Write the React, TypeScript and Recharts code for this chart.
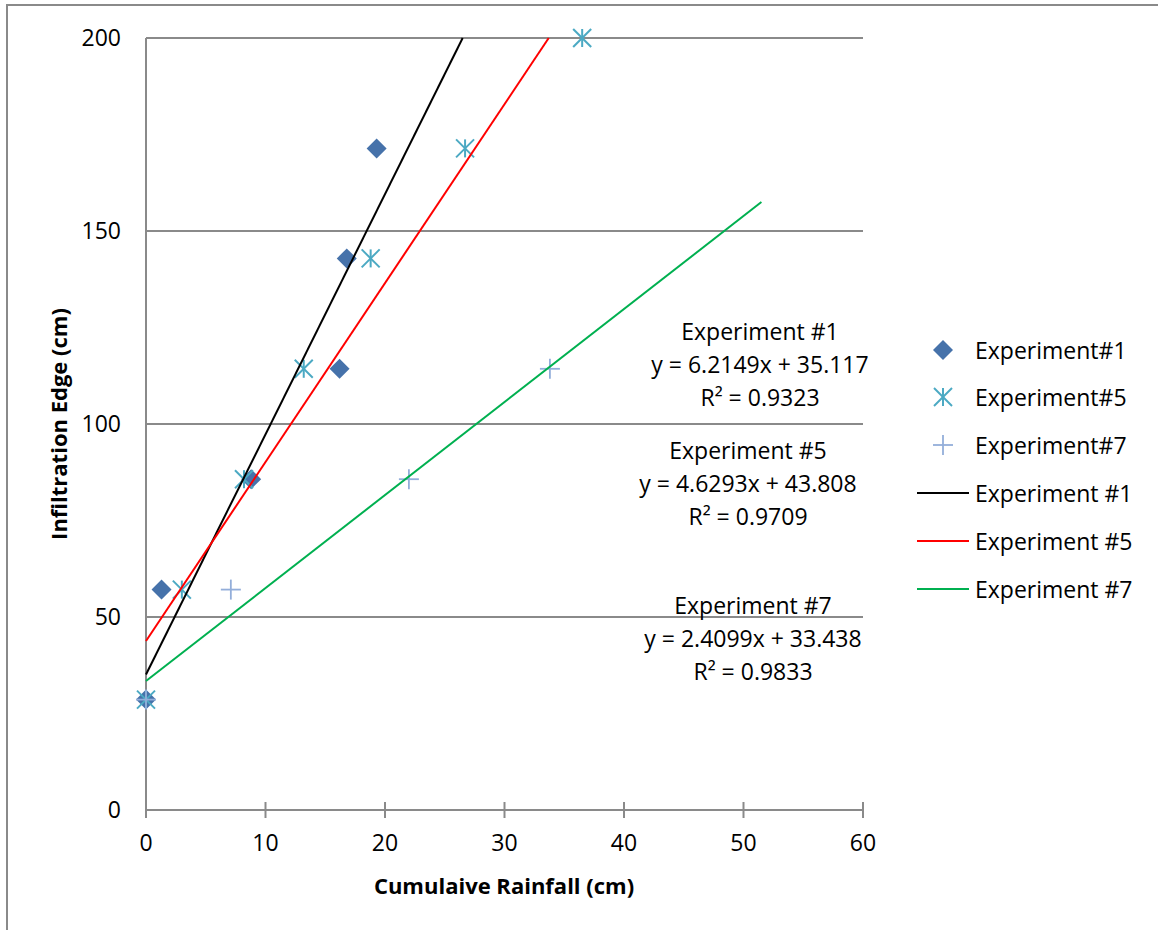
import { CartesianGrid, Scatter, ScatterChart, XAxis, YAxis } from "recharts";

const exp1X = [0, 1.3, 8.8, 16.2, 16.8, 19.3];
const exp1Y = [28.6, 57.1, 85.7, 114.3, 142.9, 171.4];
const exp5X = [0, 3.0, 8.2, 13.2, 18.8, 26.7, 36.5];
const exp5Y = [28.6, 57.1, 85.7, 114.3, 142.9, 171.4, 200];
const exp7X = [0, 7.1, 22.0, 33.8];
const exp7Y = [28.6, 57.1, 85.7, 114.3];

// trendline end points as drawn
const trend1X = [0, 26.5];
const trend1Y = [35.1, 200];
const trend5X = [0, 33.7];
const trend5Y = [43.8, 200];
const trend7X = [0, 51.5];
const trend7Y = [33.4, 157.5];

const xTicks = [0, 10, 20, 30, 40, 50, 60];
const yTicks = [0, 50, 100, 150, 200];

const equations = [
  { title: "Experiment #1", eq: "y = 6.2149x + 35.117", r2: "R² = 0.9323" },
  { title: "Experiment #5", eq: "y = 4.6293x + 43.808", r2: "R² = 0.9709" },
  { title: "Experiment #7", eq: "y = 2.4099x + 33.438", r2: "R² = 0.9833" },
];

const legendNames = ["Experiment#1", "Experiment#5", "Experiment#7", "Experiment #1", "Experiment #5", "Experiment #7"];

const FONT = "'Open Sans', sans-serif";
const AXIS = "#8A8A8A";
const C1 = "#4672AA";
const C5 = "#4BA9C3";
const C7 = "#93AEDA";
const LINE_COLORS = ["#000000", "#FF0000", "#00B050"];

const zip = (xs: number[], ys: number[]) => xs.map((x, i) => ({ x, y: ys[i] }));

const Diamond = ({ cx, cy }: any) => (
  <polygon points={`${cx},${cy - 10} ${cx + 10},${cy} ${cx},${cy + 10} ${cx - 10},${cy}`} fill={C1} />
);

const Star = ({ cx, cy }: any) => (
  <g stroke={C5} strokeWidth={2}>
    <line x1={cx - 9} y1={cy - 9} x2={cx + 9} y2={cy + 9} />
    <line x1={cx - 9} y1={cy + 9} x2={cx + 9} y2={cy - 9} />
    <line x1={cx} y1={cy - 9} x2={cx} y2={cy + 9} />
  </g>
);

const Plus = ({ cx, cy }: any) => (
  <g stroke={C7} strokeWidth={1.8}>
    <line x1={cx - 10} y1={cy} x2={cx + 10} y2={cy} />
    <line x1={cx} y1={cy - 10} x2={cx} y2={cy + 10} />
  </g>
);

const NoDot = () => <g />;

const XTick = ({ x, y, payload }: any) => (
  <g>
    <line x1={x} x2={x} y1={y - 33} y2={y - 17} stroke={AXIS} strokeWidth={2} />
    <text x={x} y={y} dy="0.71em" textAnchor="middle" fill="#000" fontSize={23} fontFamily={FONT}>
      {payload.value}
    </text>
  </g>
);

const eqPos = [
  { cx: 760, top: 315 },
  { cx: 748, top: 434 },
  { cx: 753, top: 589 },
];

const legendY = [350, 397, 445, 493, 541, 589];

export default function App() {
  return (
    <div style={{ position: "absolute", left: 0, top: 0, width: 1158, height: 930, overflow: "hidden", background: "#fff", fontFamily: FONT }}>
      <div style={{ position: "absolute", left: 6, top: 4, width: 1200, height: 1000, borderLeft: `2px solid ${AXIS}`, borderTop: `2px solid ${AXIS}` }} />
      <ScatterChart width={1158} height={930} margin={{ top: 38, right: 295, bottom: 60, left: 10 }}>
        <CartesianGrid vertical={false} stroke={AXIS} strokeWidth={2} />
        <XAxis
          type="number"
          dataKey="x"
          domain={[0, 60]}
          ticks={xTicks}
          height={60}
          tickLine={false}
          tickSize={0}
          tickMargin={25}
          axisLine={{ stroke: AXIS, strokeWidth: 2 }}
          tick={<XTick />}
        />
        <YAxis
          type="number"
          dataKey="y"
          domain={[0, 200]}
          ticks={yTicks}
          width={136}
          tickLine={false}
          tickSize={0}
          tickMargin={25}
          axisLine={{ stroke: AXIS, strokeWidth: 2 }}
          tick={{ fill: "#000", fontSize: 23, fontFamily: FONT }}
        />
        <Scatter data={zip(exp1X, exp1Y)} shape={<Diamond />} isAnimationActive={false} />
        <Scatter data={zip(exp5X, exp5Y)} shape={<Star />} isAnimationActive={false} />
        <Scatter data={zip(exp7X, exp7Y)} shape={<Plus />} isAnimationActive={false} />
        <Scatter data={zip(trend1X, trend1Y)} shape={<NoDot />} line={{ stroke: LINE_COLORS[0], strokeWidth: 2 }} isAnimationActive={false} />
        <Scatter data={zip(trend5X, trend5Y)} shape={<NoDot />} line={{ stroke: LINE_COLORS[1], strokeWidth: 2 }} isAnimationActive={false} />
        <Scatter data={zip(trend7X, trend7Y)} shape={<NoDot />} line={{ stroke: LINE_COLORS[2], strokeWidth: 2 }} isAnimationActive={false} />
      </ScatterChart>

      {equations.map((e, i) => (
        <div
          key={e.title}
          style={{ position: "absolute", left: eqPos[i].cx - 150, top: eqPos[i].top, width: 300, textAlign: "center", fontSize: 23, lineHeight: "33px", color: "#000" }}
        >
          <div>{e.title}</div>
          <div>{e.eq}</div>
          <div>{e.r2}</div>
        </div>
      ))}

      {legendNames.map((name, i) => (
        <div key={name + i} style={{ position: "absolute", left: 912, top: legendY[i] - 17, height: 34, display: "flex", alignItems: "center" }}>
          <svg width={60} height={34}>
            {i === 0 && <Diamond cx={31} cy={17} />}
            {i === 1 && <Star cx={31} cy={17} />}
            {i === 2 && <Plus cx={31} cy={17} />}
            {i >= 3 && <line x1={5} x2={57} y1={17} y2={17} stroke={LINE_COLORS[i - 3]} strokeWidth={2} />}
          </svg>
          <span style={{ marginLeft: 3, fontSize: 23, color: "#000", whiteSpace: "nowrap" }}>{name}</span>
        </div>
      ))}

      <div style={{ position: "absolute", left: 354, top: 870, width: 300, textAlign: "center", fontSize: 22, fontWeight: 700, whiteSpace: "nowrap" }}>
        Cumulaive Rainfall (cm)
      </div>
      <div
        style={{ position: "absolute", left: 58 - 150, top: 424 - 15, width: 300, height: 30, lineHeight: "30px", textAlign: "center", fontSize: 22, fontWeight: 700, whiteSpace: "nowrap", transform: "rotate(-90deg)" }}
      >
        Infiltration Edge (cm)
      </div>
    </div>
  );
}
